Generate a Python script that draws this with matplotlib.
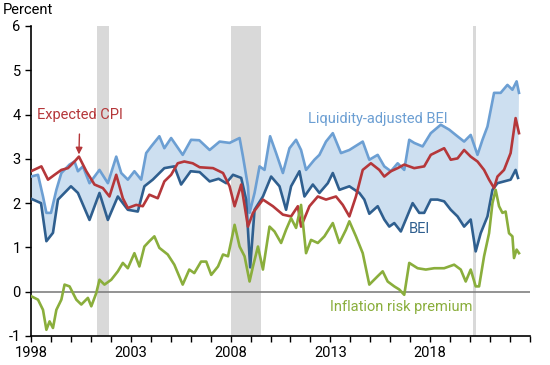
#Break-even inflation, its liquidity-adjusted version, expected CPI and the inflation risk premium.
import matplotlib.pyplot as plt

plt.rcParams['font.family'] = ['Roboto', 'DejaVu Sans']
plt.rcParams['axes.unicode_minus'] = False

#BEI (dark blue)
bei_t = [1998.0, 1998.5, 1998.77, 1999.1, 1999.35, 2000.0, 2000.35, 2000.93, 2001.43, 2001.85,
         2002.35, 2002.85, 2003.35, 2003.68, 2004.1, 2004.68, 2005.18, 2005.52, 2006.0, 2006.45,
         2006.95, 2007.4, 2007.78, 2008.12, 2008.53, 2008.78, 2008.98, 2009.2, 2009.62, 2010.03,
         2010.45, 2010.78, 2011.03, 2011.45, 2011.7, 2012.12, 2012.45, 2012.87, 2013.12, 2013.45,
         2013.95, 2014.45, 2014.7, 2014.95, 2015.37, 2015.7, 2015.95, 2016.2, 2016.53, 2016.78,
         2017.12, 2017.45, 2017.7, 2018.03, 2018.37, 2018.7, 2019.03, 2019.37, 2019.7, 2020.03,
         2020.28, 2020.53, 2020.87, 2021.12, 2021.37, 2021.7, 2022.03, 2022.28, 2022.4]
bei_v = [2.1, 2.0, 1.14, 1.33, 2.08, 2.38, 2.23, 1.62, 2.23, 1.62,
         2.15, 1.85, 1.81, 2.38, 2.53, 2.79, 2.83, 2.42, 2.72, 2.7,
         2.49, 2.55, 2.45, 2.64, 2.57, 2.08, 0.55, 1.85, 2.15, 2.6,
         2.38, 1.85, 2.38, 2.72, 2.15, 2.42, 2.23, 2.45, 2.68, 2.3,
         2.38, 2.23, 2.08, 1.76, 1.93, 1.63, 1.47, 1.55, 1.36, 1.63,
         2.0, 1.78, 1.78, 2.08, 2.08, 2.04, 1.85, 1.7, 1.47, 1.63,
         0.91, 1.32, 1.7, 2.3, 2.45, 2.49, 2.53, 2.75, 2.57]

#liquidity-adjusted BEI (light blue)
lbei_t = [1998.0, 1998.35, 1998.6, 1998.77, 1999.0, 1999.27, 1999.52, 1999.93, 2000.18, 2000.35,
          2000.6, 2000.93, 2001.43, 2001.85, 2002.27, 2002.52, 2002.85, 2003.18, 2003.52, 2003.77,
          2004.02, 2004.43, 2004.68, 2005.02, 2005.6, 2006.02, 2006.43, 2006.95, 2007.45, 2007.95,
          2008.45, 2008.62, 2008.87, 2008.95, 2009.2, 2009.45, 2009.7, 2009.98, 2010.28, 2010.62,
          2010.95, 2011.28, 2011.53, 2011.78, 2012.2, 2012.45, 2012.78, 2013.12, 2013.53, 2013.95,
          2014.62, 2014.95, 2015.37, 2015.7, 2016.03, 2016.37, 2016.7, 2016.95, 2017.2, 2017.62,
          2018.03, 2018.53, 2018.95, 2019.28, 2019.7, 2020.03, 2020.37, 2020.62, 2020.87, 2021.2,
          2021.53, 2021.87, 2022.12, 2022.33, 2022.45]
lbei_v = [2.6, 2.64, 2.15, 1.78, 1.78, 2.3, 2.68, 2.87, 2.94, 2.72,
          2.83, 2.45, 2.75, 2.45, 3.05, 2.68, 2.53, 2.72, 2.53, 3.13,
          3.28, 3.51, 3.24, 3.47, 3.09, 3.43, 3.42, 3.2, 3.39, 3.36,
          3.47, 3.05, 2.38, 1.78, 2.23, 2.83, 2.75, 3.51, 3.13, 2.68,
          3.24, 3.43, 3.2, 2.75, 2.98, 3.09, 3.39, 3.58, 3.13, 3.2,
          3.39, 2.98, 3.09, 2.83, 2.72, 2.9, 2.75, 3.43, 3.36, 3.28,
          3.58, 3.77, 3.66, 3.54, 3.39, 3.54, 3.09, 3.43, 3.73, 4.49,
          4.49, 4.67, 4.56, 4.75, 4.49]

#expected CPI (red)
cpi_t = [1998.0, 1998.52, 1998.85, 1999.18, 1999.52, 1999.85, 2000.18, 2000.4, 2000.77, 2001.18,
         2001.6, 2001.93, 2002.27, 2002.6, 2002.85, 2003.27, 2003.6, 2003.93, 2004.35, 2004.68,
         2005.02, 2005.35, 2005.68, 2006.1, 2006.45, 2007.12, 2007.62, 2007.95, 2008.2, 2008.53,
         2008.87, 2009.12, 2009.62, 2010.12, 2010.62, 2011.03, 2011.37, 2011.53, 2011.95, 2012.37,
         2012.78, 2013.28, 2013.62, 2013.95, 2014.28, 2014.62, 2015.03, 2015.45, 2015.7, 2016.03,
         2016.37, 2016.7, 2017.2, 2017.7, 2018.03, 2018.7, 2019.03, 2019.37, 2019.7, 2020.03,
         2020.37, 2020.7, 2020.95, 2021.2, 2021.37, 2021.7, 2022.03, 2022.28, 2022.45]
cpi_v = [2.72, 2.83, 2.53, 2.64, 2.75, 2.79, 2.94, 3.05, 2.72, 2.42,
         2.34, 2.15, 2.64, 2.11, 1.89, 1.96, 1.93, 2.19, 2.11, 2.49,
         2.64, 2.9, 2.94, 2.9, 2.81, 2.79, 2.68, 2.38, 1.93, 2.42,
         1.47, 1.78, 2.08, 1.93, 1.74, 1.7, 1.93, 1.47, 1.93, 2.15,
         2.08, 2.15, 1.96, 1.7, 2.15, 2.75, 2.9, 2.75, 2.6, 2.72,
         2.79, 2.87, 2.79, 2.83, 3.09, 3.24, 2.98, 3.01, 3.2, 3.05,
         2.94, 2.75, 2.53, 2.34, 2.6, 2.75, 3.13, 3.92, 3.58]

#inflation risk premium (green)
irp_t = [1998.0, 1998.35, 1998.6, 1998.77, 1998.93, 1999.1, 1999.27, 1999.52, 1999.68, 1999.93,
         2000.27, 2000.52, 2000.85, 2001.02, 2001.27, 2001.43, 2001.68, 2002.02, 2002.35, 2002.6,
         2002.85, 2003.18, 2003.43, 2003.68, 2003.93, 2004.18, 2004.43, 2004.85, 2005.18, 2005.6,
         2005.93, 2006.18, 2006.52, 2006.78, 2007.03, 2007.37, 2007.62, 2007.87, 2008.03, 2008.2,
         2008.45, 2008.7, 2008.95, 2009.12, 2009.37, 2009.62, 2009.95, 2010.2, 2010.53, 2010.78,
         2011.03, 2011.28, 2011.53, 2011.78, 2012.03, 2012.37, 2012.7, 2013.12, 2013.45, 2013.78,
         2013.95, 2014.28, 2014.62, 2014.95, 2015.37, 2015.62, 2015.87, 2016.2, 2016.45, 2016.7,
         2016.95, 2017.37, 2017.78, 2018.2, 2018.7, 2019.2, 2019.53, 2019.78, 2020.03, 2020.28,
         2020.45, 2020.7, 2020.95, 2021.12, 2021.28, 2021.45, 2021.62, 2021.78, 2021.95, 2022.12,
         2022.2, 2022.33, 2022.45]
irp_v = [-0.1, -0.18, -0.41, -0.86, -0.67, -0.82, -0.41, -0.18, 0.16, 0.12,
         -0.18, -0.29, -0.14, -0.33, -0.03, 0.27, 0.16, 0.27, 0.46, 0.65,
         0.53, 0.87, 0.57, 1.02, 1.14, 1.25, 0.99, 0.84, 0.61, 0.16,
         0.5, 0.42, 0.68, 0.68, 0.38, 0.57, 0.84, 0.8, 1.14, 1.51,
         1.02, 0.8, 0.23, 0.57, 1.02, 0.5, 1.47, 1.36, 1.1, 1.4,
         1.66, 1.44, 1.96, 0.87, 1.17, 1.1, 1.25, 1.55, 1.1, 1.4,
         1.59, 1.25, 0.87, 0.16, 0.35, 0.46, 0.23, 0.12, 0.05, -0.07,
         0.65, 0.53, 0.5, 0.53, 0.53, 0.61, 0.5, 0.23, 0.5, 0.12,
         0.12, 0.8, 1.32, 2.0, 2.3, 1.93, 1.78, 1.81, 1.32, 1.25,
         0.76, 0.95, 0.87]

#recessions (start, end)
recessions = [(2001.3, 2001.9), (2008.0, 2009.5), (2020.17, 2020.3)]

dark_blue = "#2f5f8f"
light_blue = "#6c9fd3"
band = "#cddff0"
red = "#b5373a"
green = "#8aae3c"

fig = plt.figure(figsize=(5.5, 3.65), dpi=100)
ax = fig.add_axes([0.0564, 0.0795, 0.9072, 0.8493])

for start, end in recessions:
    ax.axvspan(start, end, color="#d9d9d9", lw=0, zorder=0)

ax.axhline(0, color="#808080", lw=1.2, zorder=1)

#band between liquidity-adjusted BEI and BEI, as one polygon
ax.fill(lbei_t + bei_t[::-1], lbei_v + bei_v[::-1], color=band, lw=0, zorder=2)

ax.plot(lbei_t, lbei_v, color=light_blue, lw=1.9, zorder=3)
ax.plot(bei_t, bei_v, color=dark_blue, lw=1.9, zorder=4)
ax.plot(cpi_t, cpi_v, color=red, lw=1.9, zorder=5)
ax.plot(irp_t, irp_v, color=green, lw=1.9, zorder=6)

ax.set_xlim(1998, 2023)
ax.set_ylim(-1, 6)
ax.set_yticks(range(-1, 7))
ax.set_xticks([1998, 2003, 2008, 2013, 2018])
ax.set_xticks(range(1998, 2024), minor=True)
ax.tick_params(axis="both", which="both", direction="out", length=4, width=1, labelsize=10.5)
ax.tick_params(axis="x", pad=3)

ax.spines["top"].set_visible(False)
ax.spines["right"].set_visible(False)
ax.spines["left"].set_linewidth(1.2)
ax.spines["bottom"].set_linewidth(1.2)

fig.text(0.005, 0.972, "Percent", fontsize=10.5, va="center", ha="left")

ax.annotate("Expected CPI", xy=(2000.4, 3.1), xytext=(2000.45, 4.0),
            color=red, fontsize=10.5, ha="center", va="center",
            arrowprops=dict(arrowstyle="-|>", color=red, lw=1, mutation_scale=10,
                            shrinkA=7, shrinkB=0))
ax.text(2015.4, 3.9, "Liquidity-adjusted BEI", color=light_blue, fontsize=10.5,
        ha="center", va="center")
ax.text(2017.45, 1.42, "BEI", color=dark_blue, fontsize=10.5, ha="center", va="center")
ax.text(2016.55, -0.34, "Inflation risk premium", color=green, fontsize=10.5,
        ha="center", va="center")

fig.savefig("out.png", dpi=100)
